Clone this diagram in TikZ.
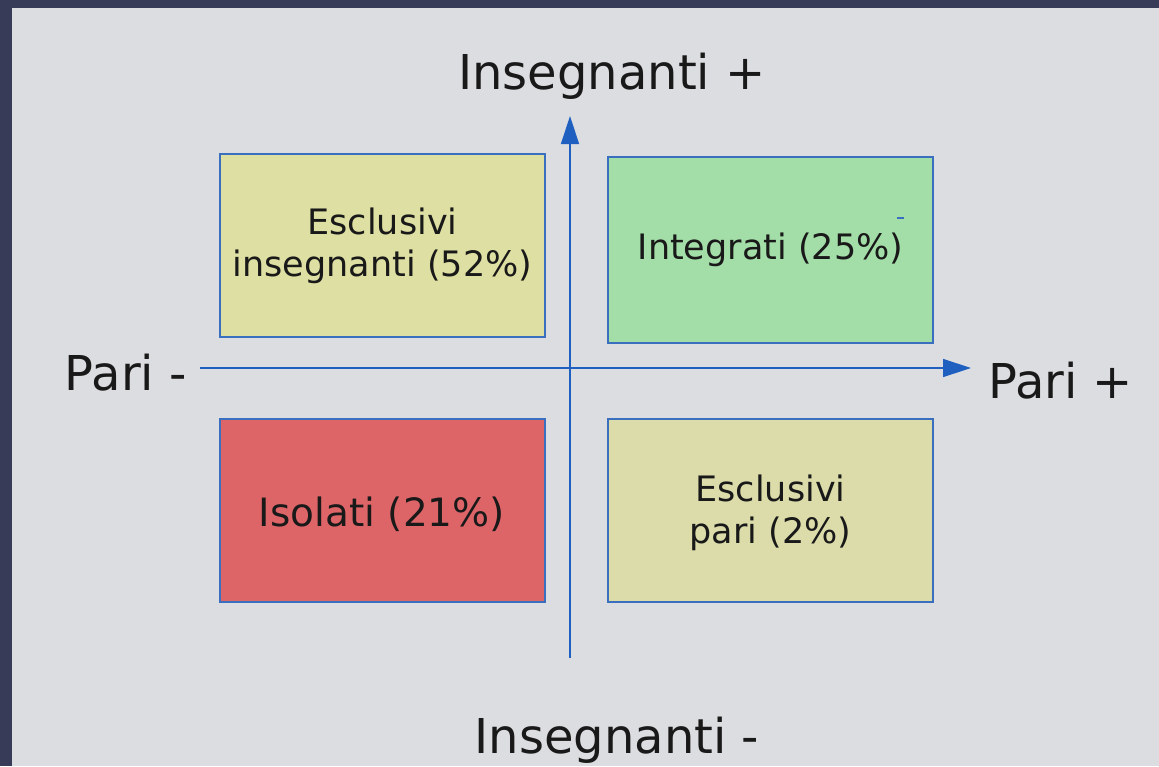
\documentclass[tikz,border=0pt]{standalone}
\usepackage{fontspec}
\setmainfont{DejaVu Sans}
\usetikzlibrary{arrows.meta}
\definecolor{frame}{HTML}{383B58}
\definecolor{bg}{HTML}{DCDDE1}
\definecolor{boxline}{HTML}{3A6FC0}
\definecolor{axis}{HTML}{1F5FC0}
\definecolor{cyellow}{HTML}{DEDFA2}
\definecolor{cgreen}{HTML}{A3DDA8}
\definecolor{cred}{HTML}{DD6568}
\definecolor{cpale}{HTML}{DCDCAB}
\tikzset{
  quad/.style={draw=boxline, line width=1.6pt, minimum width=325pt, align=center,
    font=\fontsize{35}{42}\selectfont, text=black!90, inner sep=0pt},
  axisline/.style={draw=axis, line width=1.4pt, -{Triangle[length=28pt,width=18pt]}},
  axlabel/.style={font=\fontsize{48}{57}\selectfont, text=black!90, inner sep=0pt}
}
\begin{document}
\begin{tikzpicture}[x=1pt,y=-1pt]
\useasboundingbox (0,0) rectangle (1159,766);
\fill[frame] (0,0) rectangle (1159,766);
\fill[bg] (12,8) rectangle (1159,766);
% quadrant boxes
\node[quad, fill=cyellow, minimum height=183pt] (esi) at (382.5,245.5) {Esclusivi\\insegnanti (52\%)};
\node[quad, fill=cgreen, minimum height=186pt] (int) at (770.5,250) {Integrati (25\%)};
\node[quad, fill=cred, minimum height=183pt] (iso) at (382.5,510.5) {};
\node[font=\fontsize{39}{46}\selectfont, text=black!90, inner sep=0pt] (isotext) at (382,514) {Isolati (21\%)};
\node[quad, fill=cpale, minimum height=183pt] (esp) at (770.5,510.5) {};
\node[font=\fontsize{35}{42}\selectfont, text=black!90, inner sep=0pt, align=center] (esptext) at (770.5,513) {Esclusivi\\pari (2\%)};
% axes
\coordinate (vbot) at (570,658);
\coordinate (vtop) at (570,116);
\coordinate (hleft) at (200,368);
\coordinate (hright) at (971,368);
\draw[axisline] (vbot) -- (vtop);
\draw[axisline] (hleft) -- (hright);
% axis labels
\node[axlabel] (ip) at (612,76) {Insegnanti +};
\node[axlabel] (im) at (617,740) {Insegnanti -};
\node[axlabel, anchor=east] (pm) at (187,373) {Pari -};
\node[axlabel, anchor=west] (pp) at (988,381) {Pari +};
% small blue mark
\draw[boxline, line width=1.2pt] (897,218) -- (904,218);
\end{tikzpicture}
\end{document}
